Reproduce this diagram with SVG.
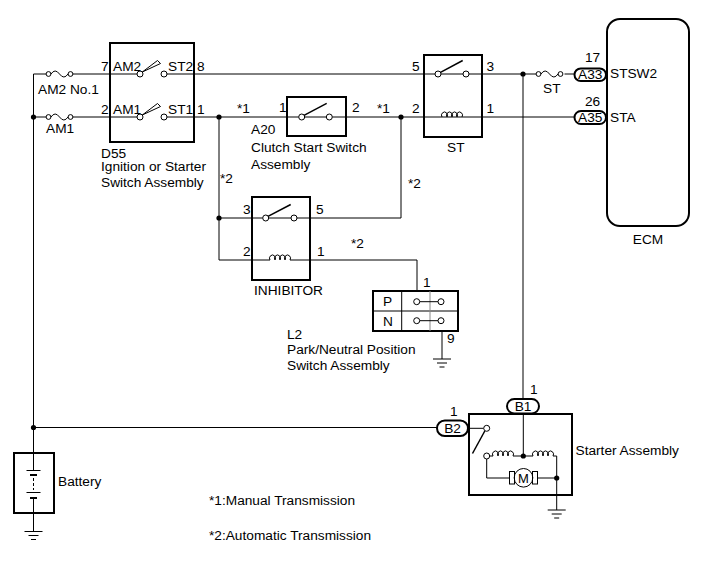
<svg xmlns="http://www.w3.org/2000/svg" width="711" height="579" viewBox="0 0 711 579">
<style>
.w{fill:none;stroke:#000;stroke-width:1}
.b{fill:none;stroke:#000;stroke-width:2}
.c{fill:#fff;stroke:#000;stroke-width:1}
.d{fill:#000;stroke:none}
.g{fill:none;stroke:#888;stroke-width:1}
.lv{fill:none;stroke:#000;stroke-width:1.5}
text{font-family:"Liberation Sans",Arial,sans-serif;font-size:13.7px;fill:#000}
.m{text-anchor:middle}
.e{text-anchor:end}
</style>
<defs>
<path id="coil" class="w" d="M0,0 a3,3.2 0 1 1 5,0 a3,3.2 0 1 1 5,0 a3,3.2 0 1 1 5,0 a3,3.2 0 1 1 5,0"/>
<path id="gnd" class="w" d="M-9,0 h18 M-5,4 h10 M-2.5,8 h5"/>
<g id="fuse">
<circle class="c" cx="2.5" cy="0" r="2.4"/>
<circle class="c" cx="24.5" cy="0" r="2.4"/>
<path class="w" d="M5,0 q4,-6 8.5,0 q4.5,6 8.5,0"/>
</g>
</defs>
<rect width="711" height="579" fill="#fff"/>

<g id="connectors">
<path class="w" d="M33.5,74 V453"/>
<path class="w" d="M33.5,74 H46 M73,74 H137 M167,74 H435 M441,74 H463 M469,74 H536 M564.5,74 H574.5"/>
<path class="w" d="M33.5,117 H46 M73,117 H137 M167,117 H298.7 M304.7,117 H326.3 M332.3,117 H574.5"/>
<path class="w" d="M219,117 V260 H270 M290,260 H417 V291"/>
<path class="w" d="M219,218 H262.7 M268.7,218 H291 M297,218 H401 V117"/>
<path class="w" d="M523,74 V399"/>
<path class="w" d="M33.5,427.5 H437"/>
<circle class="d" cx="33.5" cy="117" r="2.6"/>
<circle class="d" cx="219" cy="117" r="2.6"/>
<circle class="d" cx="401" cy="117" r="2.6"/>
<circle class="d" cx="523" cy="74" r="2.6"/>
<circle class="d" cx="219" cy="218" r="2.6"/>
<circle class="d" cx="33.5" cy="427.5" r="2.6"/>
<text x="237" y="113">*1</text>
<text x="377" y="113">*1</text>
<text x="220" y="183">*2</text>
<text x="408" y="188">*2</text>
<text x="351" y="248">*2</text>
</g>

<g id="fuse-am2">
<use href="#fuse" x="46" y="74"/>
<text x="38" y="94">AM2 No.1</text>
</g>
<g id="fuse-am1">
<use href="#fuse" x="46" y="117"/>
<text x="46" y="133">AM1</text>
</g>
<g id="fuse-st">
<use href="#fuse" x="536" y="74"/>
<text x="543" y="93">ST</text>
</g>

<g id="d55">
<rect class="b" x="110" y="43" width="84" height="99"/>
<text class="e" x="108.5" y="71">7</text>
<text x="113" y="71">AM2</text>
<text x="168" y="71">ST2</text>
<text x="197" y="71">8</text>
<circle class="c" cx="140" cy="74" r="3"/>
<circle class="c" cx="164" cy="74" r="3"/>
<path class="w" d="M142.3,72 L157.5,60.5 L160.5,63.5 Z" fill="#fff"/>
<text class="e" x="108.5" y="113.5">2</text>
<text x="113" y="113.5">AM1</text>
<text x="168" y="113.5">ST1</text>
<text x="197" y="113.5">1</text>
<circle class="c" cx="140" cy="117" r="3"/>
<circle class="c" cx="164" cy="117" r="3"/>
<path class="w" d="M142.3,115 L157.5,103.5 L160.5,106.5 Z" fill="#fff"/>
<text x="101" y="157.5">D55</text>
<text x="101" y="171">Ignition or Starter</text>
<text x="101" y="187">Switch Assembly</text>
</g>

<g id="a20">
<rect class="b" x="287" y="97" width="59" height="39"/>
<text x="279" y="112">1</text>
<text x="352" y="112">2</text>
<circle class="c" cx="301.7" cy="117" r="3"/>
<circle class="c" cx="329.3" cy="117" r="3"/>
<path class="lv" d="M304,115.3 L326.7,103.3"/>
<text x="251" y="133.5">A20</text>
<text x="251" y="151.5">Clutch Start Switch</text>
<text x="251" y="169">Assembly</text>
</g>

<g id="st-relay">
<rect class="b" x="424" y="55" width="58" height="82"/>
<text x="412" y="70.5">5</text>
<text x="486.5" y="70.5">3</text>
<text x="412" y="113">2</text>
<text x="486.5" y="113">1</text>
<circle class="c" cx="438" cy="74" r="3"/>
<circle class="c" cx="466" cy="74" r="3"/>
<path class="lv" d="M440.5,72.3 L462.7,60.5"/>
<use href="#coil" x="442" y="117"/>
<text x="447" y="152">ST</text>
</g>

<g id="ecm">
<rect class="b" x="607" y="19" width="82" height="207" rx="13"/>
<rect class="b" x="574.5" y="68.5" width="31.5" height="12.5" rx="6.25"/>
<text class="m" x="590.3" y="79">A33</text>
<text x="585" y="62">17</text>
<text x="610" y="78">STSW2</text>
<rect class="b" x="574.5" y="111" width="31.5" height="13" rx="6.5"/>
<text class="m" x="590.3" y="122">A35</text>
<text x="585" y="106">26</text>
<text x="610" y="122">STA</text>
<text class="m" x="648" y="243.5">ECM</text>
</g>

<g id="inhibitor">
<rect class="b" x="252" y="197" width="58" height="83"/>
<text x="243" y="213.5">3</text>
<text x="316" y="213.5">5</text>
<text x="243" y="256">2</text>
<text x="317" y="256">1</text>
<circle class="c" cx="265.7" cy="218" r="3"/>
<circle class="c" cx="294" cy="218" r="3"/>
<path class="lv" d="M268,216.3 L290.7,204.5"/>
<use href="#coil" x="270" y="260"/>
<text x="254" y="295">INHIBITOR</text>
</g>

<g id="pnp">
<rect class="b" x="373" y="291" width="85" height="40"/>
<path class="w" d="M373,311 H458 M401.7,291 V331"/>
<path class="g" d="M430,291 V331"/>
<path class="w" d="M419.7,301.7 H438 M419.7,320.7 H438"/>
<circle class="c" cx="416.7" cy="301.7" r="3"/>
<circle class="c" cx="441" cy="301.7" r="3"/>
<circle class="c" cx="416.7" cy="320.7" r="3"/>
<circle class="c" cx="441" cy="320.7" r="3"/>
<text x="383" y="305.5">P</text>
<text x="383" y="325.5">N</text>
<text x="423" y="287">1</text>
<text x="447" y="343">9</text>
<path class="w" d="M442,331 V359"/>
<use href="#gnd" x="442" y="359"/>
<text x="287" y="338.5">L2</text>
<text x="287" y="353.5">Park/Neutral Position</text>
<text x="287" y="370">Switch Assembly</text>
</g>

<g id="starter">
<rect class="b" x="469" y="414" width="103" height="81"/>
<rect class="b" x="507" y="399" width="32" height="14.5" rx="7.25"/>
<text class="m" x="523" y="411">B1</text>
<text x="530" y="393.5">1</text>
<rect class="b" x="437" y="420.5" width="31" height="15.5" rx="7.75"/>
<text class="m" x="452.5" y="433">B2</text>
<text x="450" y="416">1</text>
<path class="w" d="M468,428.3 H483.7"/>
<circle class="c" cx="486.7" cy="428.3" r="3"/>
<path class="lv" d="M484.8,431 L472.5,453.5"/>
<path class="w" d="M489.7,456 H493 M513,456 H533 M553,456 H556.7 V510"/>
<use href="#coil" x="493" y="456"/>
<use href="#coil" x="533" y="456"/>
<circle class="c" cx="486.7" cy="456" r="3"/>
<path class="w" d="M523.3,413.5 V456"/>
<circle class="d" cx="523.3" cy="456" r="2.6"/>
<path class="w" d="M486.7,459 V478 H509.5 M538,478 H556.7"/>
<rect class="w" x="509.5" y="471.5" width="5" height="12.5" fill="#fff"/>
<rect class="w" x="532.5" y="471.5" width="5" height="12.5" fill="#fff"/>
<circle class="w" cx="523.5" cy="477.8" r="9.3" fill="#fff"/>
<text class="m" x="523.5" y="482.8" style="font-size:13px">M</text>
<circle class="d" cx="556.7" cy="478" r="2.6"/>
<use href="#gnd" x="556.7" y="510"/>
<text x="575.5" y="455">Starter Assembly</text>
</g>

<g id="battery">
<rect class="b" x="14" y="453" width="40" height="60"/>
<path class="w" d="M33.5,453 V470.5 M26.5,470.5 H40.5 M26.5,492.5 H40.5 M33.5,498 V531.5"/>
<path class="b" d="M30,475 H37 M30,498 H37"/>
<path class="w" d="M33.5,478 V490" stroke-dasharray="3,2"/>
<use href="#gnd" x="33.5" y="531.5"/>
<text x="58" y="486">Battery</text>
</g>

<g id="notes">
<text x="209" y="505">*1:Manual Transmission</text>
<text x="209" y="539.5">*2:Automatic Transmission</text>
</g>
</svg>
